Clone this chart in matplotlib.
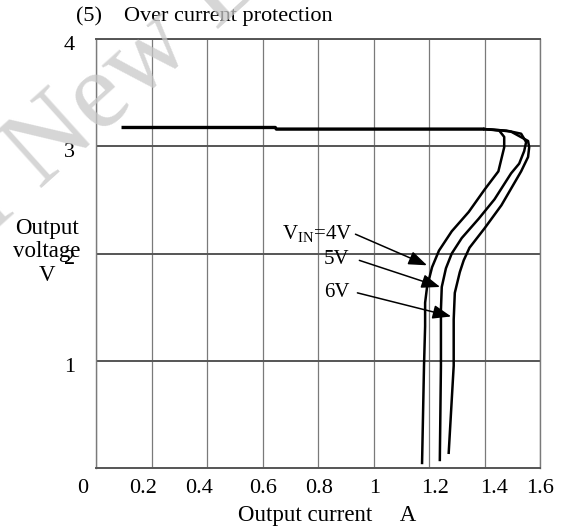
import matplotlib
matplotlib.use('Agg')
import matplotlib.pyplot as plt
from matplotlib.transforms import ScaledTranslation

plt.rcParams['font.family'] = ['Liberation Serif', 'DejaVu Serif']
plt.rcParams['mathtext.fontset'] = 'custom'
plt.rcParams['mathtext.rm'] = 'Liberation Serif'

# common flat part (all three curves overlap here)
flat_i = [0.092, 0.646, 0.65, 1.40]
flat_v = [3.175, 3.175, 3.16, 3.16]

# VIN = 4V
i_4v = [1.40, 1.453, 1.471, 1.471, 1.450, 1.40, 1.343, 1.282, 1.236, 1.211, 1.193, 1.186, 1.186, 1.182, 1.175]
v_4v = [3.16, 3.146, 3.087, 2.99, 2.766, 2.595, 2.387, 2.207, 2.027, 1.872, 1.688, 1.541, 1.321, 0.953, 0.047]

# VIN = 5V
i_5v = [1.40, 1.453, 1.479, 1.532, 1.550, 1.543, 1.525, 1.496, 1.436, 1.379, 1.318, 1.282, 1.261, 1.246, 1.243, 1.243, 1.239]
v_5v = [3.16, 3.150, 3.146, 3.117, 3.039, 2.955, 2.838, 2.748, 2.505, 2.324, 2.144, 2.0, 1.862, 1.688, 1.477, 0.953, 0.075]

# VIN = 6V
i_6v = [1.40, 1.453, 1.496, 1.557, 1.561, 1.557, 1.532, 1.461, 1.40, 1.346, 1.325, 1.311, 1.293, 1.289, 1.289, 1.271]
v_6v = [3.16, 3.150, 3.136, 3.049, 2.99, 2.90, 2.766, 2.45, 2.234, 2.054, 1.936, 1.826, 1.633, 1.385, 0.953, 0.142]

x_ticks = [0, 0.2, 0.4, 0.6, 0.8, 1.0, 1.2, 1.4, 1.6]
x_ticklabels = ['0', '0.2', '0.4', '0.6', '0.8', '1', '1.2', '1.4', '1.6']
x_label_shift_px = [-13, -8, -8, 1, 1, 1, 6, 10, 0]
y_ticks = [1, 2, 3, 4]

labels = [r'V$_{\mathrm{IN}}$=4V', '5V', '6V']
label_pos = [(0.924, 2.18), (0.913, 1.94), (0.913, 1.64)]
arrow_from = [(0.935, 2.18), (0.949, 1.936), (0.942, 1.633)]
arrow_to = [(1.193, 1.89), (1.24, 1.688), (1.28, 1.413)]

fig = plt.figure(figsize=(5.71, 5.28), dpi=100)
ax = fig.add_axes([96/571, 1-468/528, 444/571, 429/528])

ax.set_xlim(0, 1.6)
ax.set_ylim(0, 4)
ax.set_xticks(x_ticks)
ax.set_xticklabels(x_ticklabels)
ax.set_yticks(y_ticks)
ax.tick_params(axis='both', length=0, labelsize=16)
ax.tick_params(axis='x', pad=8)
ax.tick_params(axis='y', pad=15)

for lab, dx in zip(ax.get_xticklabels(), x_label_shift_px):
    lab.set_transform(lab.get_transform() + ScaledTranslation(dx/100, 0, fig.dpi_scale_trans))
for lab in ax.get_yticklabels():
    lab.set_transform(lab.get_transform() + ScaledTranslation(0, -4/100, fig.dpi_scale_trans))

ax.xaxis.grid(True, color='#7a7a7a', lw=0.9)
ax.yaxis.grid(True, color='#555555', lw=1.4)
ax.set_axisbelow(True)
for s in ['left', 'right']:
    ax.spines[s].set_color('#7a7a7a')
    ax.spines[s].set_linewidth(1.0)
for s in ['top', 'bottom']:
    ax.spines[s].set_color('#555555')
    ax.spines[s].set_linewidth(1.4)

ax.plot(flat_i, flat_v, color='k', lw=2.4, solid_capstyle='butt')
ax.plot(i_4v, v_4v, color='k', lw=1.8)
ax.plot(i_5v, v_5v, color='k', lw=1.8)
ax.plot(i_6v, v_6v, color='k', lw=1.8)

for txt, pos, a, b in zip(labels, label_pos, arrow_from, arrow_to):
    ax.text(pos[0], pos[1], txt, ha='right', va='center', fontsize=15)
    ax.annotate('', xy=b, xytext=a,
                arrowprops=dict(arrowstyle='-|>,head_length=0.8,head_width=0.3',
                                color='k', lw=1.1, shrinkA=0, shrinkB=0,
                                mutation_scale=14))

fig.text(76/571, 1-17/528, '(5)', fontsize=16, ha='left', va='center')
fig.text(124/571, 1-17/528, 'Over current protection', fontsize=16, ha='left', va='center')
fig.text(47/571, 1-252/528, 'Output\nvoltage\nV', fontsize=16.5, ha='center', va='center',
         multialignment='center', linespacing=1.15)
fig.text(327/571, 1-515/528, 'Output current     A', fontsize=16.5, ha='center', va='center')

# faint watermark
fig.text(40/571, 1-190/528, 'New Designs', fontsize=80, color='#c8c8c8', alpha=0.75,
         rotation=42, rotation_mode='anchor', ha='left', va='baseline', zorder=10)
fig.text(22/571, 1-206/528, 'Not Recommended for', fontsize=80, color='#c8c8c8', alpha=0.75,
         rotation=42, rotation_mode='anchor', ha='right', va='baseline', zorder=10)

fig.savefig('out.png', dpi=100)
